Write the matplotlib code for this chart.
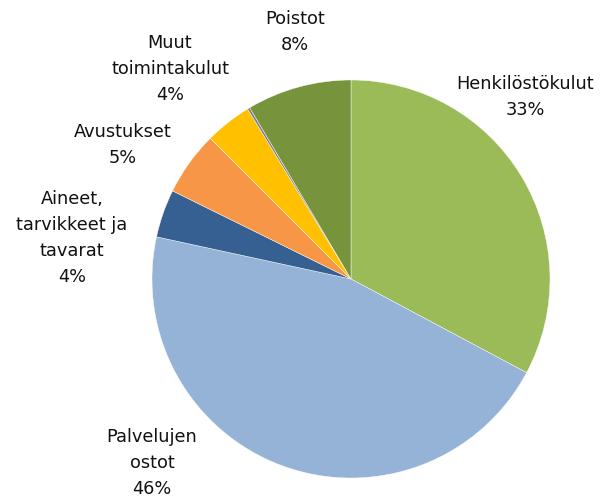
import matplotlib.pyplot as plt

labels = ['Henkilöstökulut', 'Palvelujen\nostot', 'Aineet,\ntarvikkeet ja\ntavarat',
          'Avustukset', 'Muut\ntoimintakulut', '', 'Poistot']
shares = [32.8, 45.6, 3.9, 5.2, 3.8, 0.2, 8.5]
pct_text = ['33%', '46%', '4%', '5%', '4%', '', '8%']
colors = ['#9BBB59', '#95B3D7', '#376092', '#F79646', '#FFC000', '#7F7F7F', '#77933C']

# label centres in pixels (x, y from top)
label_px = [(525, 97), (152, 463), (72, 238), (123, 145), (170, 69), None, (295, 32)]

W, H = 602, 499
cx, cy, r = 351, 279, 199

fig = plt.figure(figsize=(W / 100, H / 100), dpi=100)
ax = fig.add_axes([(cx - r) / W, (H - cy - r) / H, 2 * r / W, 2 * r / H])
ax.pie(shares, colors=colors, startangle=90, counterclock=False, radius=1,
       wedgeprops=dict(linewidth=0.3, edgecolor='white'))
ax.set_xlim(-1, 1)
ax.set_ylim(-1, 1)
ax.axis('off')

for lab, pct, pos in zip(labels, pct_text, label_px):
    if pos is None:
        continue
    fig.text(pos[0] / W, 1 - pos[1] / H, lab + '\n' + pct, ha='center', va='center',
             fontsize=12.8, color='#111111', linespacing=1.55, family='DejaVu Sans')

fig.savefig('out.png', dpi=100, facecolor='white')
